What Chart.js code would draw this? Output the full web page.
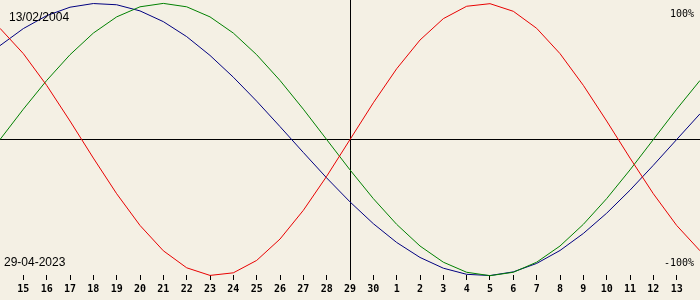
<!DOCTYPE html>
<html>
<head>
<meta charset="utf-8">
<script src="https://cdn.jsdelivr.net/npm/chart.js@4"></script>
<style>
  html, body { margin: 0; padding: 0; background: #f4f0e4; }
  #bio { display: block; }
</style>
</head>
<body>
<canvas id="bio" width="700" height="300"></canvas>
<script>
// --- Data: one value per day, 14 April .. 14 May (index -1 .. 29) ---
const dayIdx    = [-1, 0, 1, 2, 3, 4, 5, 6, 7, 8, 9, 10, 11, 12, 13, 14, 15, 16, 17, 18, 19, 20, 21, 22, 23, 24, 25, 26, 27, 28, 29];
const dayLabels = [14, 15, 16, 17, 18, 19, 20, 21, 22, 23, 24, 25, 26, 27, 28, 29, 30, 1, 2, 3, 4, 5, 6, 7, 8, 9, 10, 11, 12, 13, 14];

// physical (23 days), emotional (28 days), intellectual (33 days), in percent
const physical     = [81.7, 63.1, 39.8, 13.6, -13.6, -39.8, -63.1, -81.7, -94.2, -99.8, -97.9, -88.8, -73.1, -52.0, -27.0, 0, 27.0, 52.0, 73.1, 88.8, 97.9, 99.8, 94.2, 81.7, 63.1, 39.8, 13.6, -13.6, -39.8, -63.1, -81.7];
const emotional    = [0, 22.3, 43.4, 62.3, 78.2, 90.1, 97.5, 100, 97.5, 90.1, 78.2, 62.3, 43.4, 22.3, 0, -22.3, -43.4, -62.3, -78.2, -90.1, -97.5, -100, -97.5, -90.1, -78.2, -62.3, -43.4, -22.3, 0, 22.3, 43.4];
const intellectual = [69.0, 81.5, 91.0, 97.2, 99.9, 99.0, 94.5, 86.6, 75.6, 61.8, 45.8, 28.2, 9.5, -9.5, -28.2, -45.8, -61.8, -75.6, -86.6, -94.5, -99.0, -99.9, -97.2, -91.0, -81.5, -69.0, -54.1, -37.2, -18.9, 0, 18.9];

const birthText = '13/02/2004';
const todayText = '29-04-2023';
const todayIdx  = 14;

const pts = vals => vals.map((v, i) => ({ x: dayIdx[i], y: v }));

function line(vals, color) {
    return {
        data: pts(vals),
        borderColor: color,
        borderWidth: 1,
        pointRadius: 0,
        tension: 0,
        fill: false,
        clip: false,
    };
}

// --- Corner texts ---
const labelsPlugin = {
    id: 'cornerText',
    afterDraw(chart) {
        const { ctx } = chart;
        ctx.save();
        ctx.fillStyle = '#000';
        ctx.textBaseline = 'alphabetic';
        ctx.font = '12px "Liberation Sans", Arial, sans-serif';
        ctx.textAlign = 'left';
        ctx.fillText(birthText, 9, 21);
        ctx.fillText(todayText, 4, 266);
        ctx.font = '10px "DejaVu Sans Mono", monospace';
        ctx.textAlign = 'right';
        ctx.fillText('100%', 694, 17);
        ctx.fillText('-100%', 694, 266);
        ctx.restore();
    }
};

new Chart(document.getElementById('bio'), {
    type: 'line',
    data: {
        datasets: [
            line(physical, '#e80000'),
            line(emotional, '#008000'),
            line(intellectual, '#000080'),
        ]
    },
    options: {
        responsive: false,
        animation: false,
        layout: { padding: 0 },
        plugins: { legend: { display: false }, tooltip: { enabled: false } },
        scales: {
            x: {
                type: 'linear',
                min: -1,
                max: 29,
                afterBuildTicks: s => { s.ticks = dayIdx.slice(1, -1).map(v => ({ value: v })); },
                afterFit: s => { s.height = 25; },
                border: { display: false },
                grid: {
                    color: c => c.tick && c.tick.value === todayIdx ? '#000' : 'transparent',
                    tickColor: '#000',
                    tickLength: 5,
                    lineWidth: 1,
                },
                ticks: {
                    autoSkip: false,
                    maxRotation: 0,
                    padding: 3,
                    color: '#000',
                    font: { family: '"DejaVu Sans Mono", monospace', size: 10, weight: 'bold' },
                    callback: v => dayLabels[dayIdx.indexOf(v)],
                }
            },
            y: {
                min: -99.5,
                max: 102.5,
                afterBuildTicks: s => { s.ticks = [{ value: 0 }]; },
                border: { display: false },
                grid: { color: '#000', drawTicks: false, lineWidth: 1 },
                ticks: { display: false },
            }
        }
    },
    plugins: [labelsPlugin]
});
</script>
</body>
</html>
